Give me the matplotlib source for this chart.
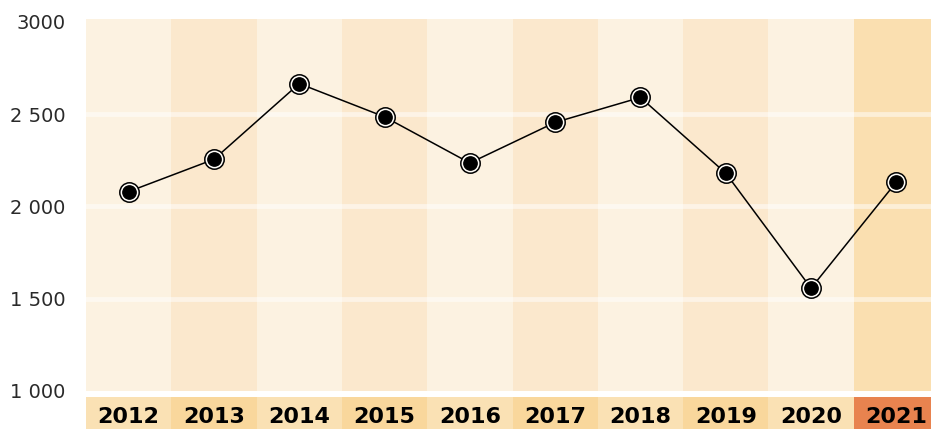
import matplotlib
matplotlib.use("Agg")
import matplotlib.pyplot as plt

years = ["2012", "2013", "2014", "2015", "2016", "2017", "2018", "2019", "2020", "2021"]
values = [2080, 2255, 2665, 2485, 2235, 2455, 2590, 2180, 1557, 2132]
yticks = [1000, 1500, 2000, 2500, 3000]
ytick_labels = ["1 000", "1 500", "2 000", "2 500", "3000"]

col_light = "#FCF2E1"
col_dark = "#FBE8CD"
col_hl = "#FADFB0"
band_light = "#FAE1B4"
band_dark = "#F9D79C"
band_hl = "#E8834F"

W, H = 931, 429
fig = plt.figure(figsize=(W / 100, H / 100), dpi=100)
fig.patch.set_facecolor("white")

left, right = 86 / W, 939 / W
ax = fig.add_axes([left, 1 - 391 / H, right - left, (391 - 19) / H])
n = len(years)
for i in range(n):
    if i == n - 1:
        c = col_hl
    else:
        c = col_light if i % 2 == 0 else col_dark
    ax.axvspan(i - 0.5, i + 0.5, color=c, lw=0, zorder=0)
for t in yticks[1:-1]:
    ax.axhline(t, color="white", alpha=0.5, lw=3.5, zorder=1)

x = list(range(n))
ax.plot(x, values, color="black", lw=1.1, zorder=2)
ax.scatter(x, values, s=195, facecolor="#FFFDF8", edgecolor="black", linewidth=1.1, zorder=3)
ax.scatter(x, values, s=92, color="black", zorder=4)

ax.set_xlim(-0.5, n - 0.5)
ax.set_ylim(1000, 3015)
ax.set_xticks([])
ax.set_yticks(yticks)
ax.set_yticklabels(ytick_labels, fontsize=14, color="#2a2a2a", family="DejaVu Sans")
ax.tick_params(axis="y", length=0, pad=15)
for s in ax.spines.values():
    s.set_visible(False)

bx = fig.add_axes([left, 0, right - left, (429 - 397) / H])
for i, yr in enumerate(years):
    if i == n - 1:
        c = band_hl
    else:
        c = band_light if i % 2 == 0 else band_dark
    bx.axvspan(i - 0.5, i + 0.5, color=c, lw=0)
    bx.text(i, 0.38, yr, ha="center", va="center", fontsize=16, fontweight="bold",
            color="black", family="DejaVu Sans")
bx.set_xlim(-0.5, n - 0.5)
bx.set_ylim(0, 1)
bx.axis("off")

fig.savefig("out.png", dpi=100)
